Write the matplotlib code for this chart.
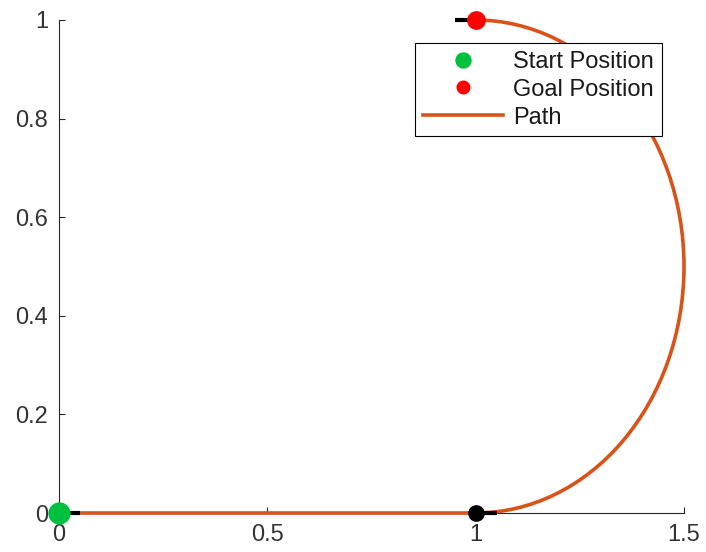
import matplotlib
matplotlib.use("Agg")
import matplotlib.pyplot as plt
from matplotlib.patches import Arc

plt.rcParams['font.family'] = ['Liberation Sans', 'DejaVu Sans']

# Data
straight_x = [0.0, 1.0]
straight_y = [0.0, 0.0]
arc_center = (1.0, 0.5)
arc_radius = 0.5
arc_theta = (-90, 90)
start = (0.0, 0.0)
goal = (1.0, 1.0)
waypoint = (1.0, 0.0)
heading_segments = [([0.0, 0.05], [0.0, 0.0]),
                    ([1.0, 1.05], [0.0, 0.0]),
                    ([0.95, 1.0], [1.0, 1.0])]
xticks = [0, 0.5, 1, 1.5]
xticklabels = ['0', '0.5', '1', '1.5']
yticks = [0, 0.2, 0.4, 0.6, 0.8, 1]
yticklabels = ['0', '0.2', '0.4', '0.6', '0.8', '1']

path_color = '#d95319'
axis_color = '#262626'

fig = plt.figure(figsize=(7.06, 5.52), dpi=100)
ax = fig.add_axes([59/706, 1-513/552, (684-59)/706, (513-20)/552])

ax.plot(straight_x, straight_y, color=path_color, lw=2.6, zorder=3, clip_on=False, label='_nolegend_')
arc = Arc(arc_center, 2*arc_radius, 2*arc_radius, theta1=arc_theta[0], theta2=arc_theta[1],
          color=path_color, lw=2.6, zorder=3, clip_on=False)
ax.add_patch(arc)
for sx, sy in heading_segments:
    ax.plot(sx, sy, color='black', lw=3, zorder=3.5, clip_on=False, solid_capstyle='butt')

h_start, = ax.plot([start[0]], [start[1]], 'o', color='#00c040', ms=15, zorder=5, clip_on=False, label='Start Position')
h_goal, = ax.plot([goal[0]], [goal[1]], 'o', color='red', ms=12.5, zorder=5, clip_on=False, label='Goal Position')
ax.plot([waypoint[0]], [waypoint[1]], 'o', color='black', ms=11, zorder=4, clip_on=False)
h_path, = ax.plot([], [], color=path_color, lw=2.6, label='Path')

ax.set_xlim(0, 1.5)
ax.set_ylim(0, 1)
ax.set_xticks(xticks)
ax.set_xticklabels(xticklabels)
ax.set_yticks(yticks)
ax.set_yticklabels(yticklabels)
for s in ['top', 'right']:
    ax.spines[s].set_visible(False)
for s in ['left', 'bottom']:
    ax.spines[s].set_color(axis_color)
    ax.spines[s].set_linewidth(0.8)
ax.tick_params(direction='in', length=4, width=0.8, colors=axis_color, labelsize=17,
               labelcolor='#333333', pad=8)

leg = ax.legend(handles=[h_start, h_goal, h_path], loc='upper right',
                bbox_to_anchor=(662/706, 1-43/552), bbox_transform=fig.transFigure,
                borderaxespad=0, fancybox=False, edgecolor='black', framealpha=1,
                fontsize=17, handlelength=3.4, handletextpad=0.45, labelspacing=0.25,
                borderpad=0.33, markerscale=0.72)
leg.get_frame().set_linewidth(0.8)
for t in leg.get_texts():
    t.set_color('#1a1a1a')

fig.savefig('out.png', dpi=100, facecolor='white')
